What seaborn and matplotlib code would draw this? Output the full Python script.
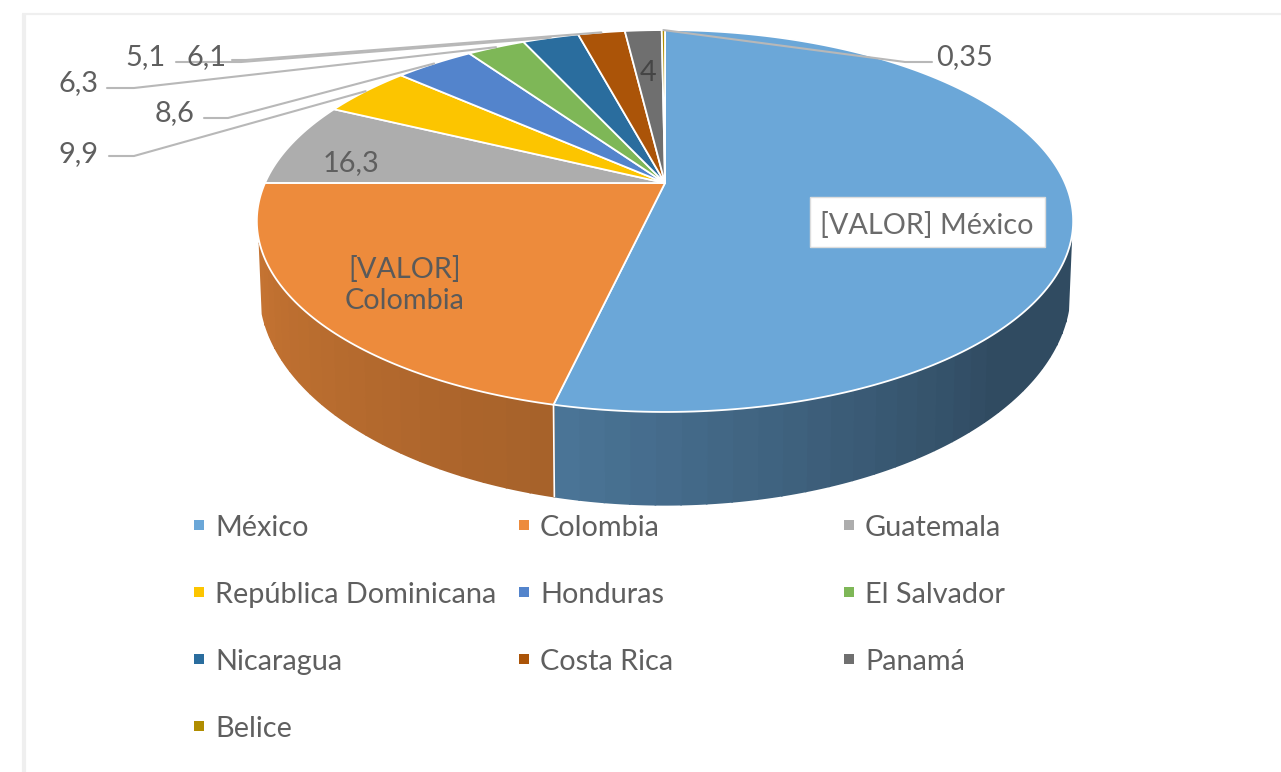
import numpy as np
import matplotlib
matplotlib.use("Agg")
import matplotlib.pyplot as plt
import seaborn as sns

# ---- data ----
countries = ["México", "Colombia", "Guatemala", "República Dominicana", "Honduras",
             "El Salvador", "Nicaragua", "Costa Rica", "Panamá", "Belice"]
values = [121.5, 48.5, 16.3, 9.9, 8.6, 6.3, 6.1, 5.1, 4.0, 0.35]
value_labels = ["[VALOR] México", "[VALOR]\nColombia", "16,3", "9,9", "8,6",
                "6,3", "6,1", "5,1", "4", "0,35"]
hex_colors = ["#6BA7D8", "#ED8B3C", "#ADADAD", "#FCC500", "#5384CC",
              "#7EB757", "#2A6D9E", "#AB5408", "#6F6F6F", "#B08D00"]

# ---- style ----
sns.set_theme(style="white")
plt.rcParams["font.family"] = ["Lato", "DejaVu Sans"]
palette = sns.color_palette(hex_colors)
TEXT = "#5f5f5f"
FS = 20.8

fig = plt.figure(figsize=(12.81, 7.72), dpi=100)
ax = fig.add_axes([0, 0, 1, 1])
ax.set_xlim(0, 1281)
ax.set_ylim(772, 0)
ax.axis("off")

# chart frame
ax.plot([23.5, 23.5], [772, 14], color="#efefef", lw=3, solid_capstyle="butt", zorder=0)
ax.plot([22, 1281], [14, 14], color="#efefef", lw=1.6, solid_capstyle="butt", zorder=0)

# ---- perspective projection of the pie discs ----
K = 0.199
CX = 665


def top_rim(theta, r=1.0):
    u, v = r * np.sin(theta), r * np.cos(theta)
    d = 1 + K * v
    return CX + 400 * u / d, 183 - 183.4 * v / d


def low_rim(theta):
    u, v = np.sin(theta), np.cos(theta)
    d = 1 + K * v
    return CX + 397 * u / d, 247 - 206.5 * v / d


vals = np.asarray(values, dtype=float)
edges = np.concatenate([[0], np.cumsum(vals)]) / vals.sum() * 2 * np.pi
mids = (edges[:-1] + edges[1:]) / 2


def shade(theta_deg):
    return np.interp(theta_deg, [0, 135, 193, 270, 360], [0.45, 0.45, 0.70, 0.87, 0.87])


# side wall, in narrow shaded bands
band = np.deg2rad(3.0)
for i, col in enumerate(palette):
    a, b = edges[i], edges[i + 1]
    n = max(1, int(np.ceil((b - a) / band)))
    steps = np.linspace(a, b, n + 1)
    for t0, t1 in zip(steps[:-1], steps[1:]):
        tm = (t0 + t1) / 2
        if np.cos(tm) > -0.30:
            continue
        s = shade(np.rad2deg(tm))
        c = tuple(np.clip(np.array(col) * s, 0, 1))
        tt = np.linspace(t0, t1, 6)
        xt, yt = top_rim(tt)
        xb, yb = low_rim(tt[::-1])
        ax.fill(np.r_[xt, xb], np.r_[yt, yb], color=c, lw=1.2, zorder=2)

# boundary between the two visible side walls
xa, ya = top_rim(edges[1])
xb, yb = low_rim(edges[1])
ax.plot([xa, xb], [ya, yb], color="white", lw=1.2, zorder=3)

# top surface
for i, col in enumerate(palette):
    tt = np.linspace(edges[i], edges[i + 1], max(4, int((edges[i + 1] - edges[i]) * 60)))
    xs, ys = top_rim(tt)
    ax.fill(np.r_[CX, xs], np.r_[183, ys], facecolor=col, edgecolor="white", lw=1.3,
            joinstyle="round", zorder=4)

# ---- labels inside the pie ----
ax.fill([810, 1045, 1045, 810], [197, 197, 247, 247], facecolor="white", edgecolor="#dddddd", lw=1, zorder=5)
ax.text(927, 226, value_labels[0], color="#6b6b6b", fontsize=FS, ha="center", va="center", zorder=6)
ax.text(405, 285, value_labels[1], color="#5a5a5a", fontsize=FS, ha="center", va="center",
        linespacing=1.22, zorder=6)
ax.text(351, 163, value_labels[2], color=TEXT, fontsize=FS, ha="center", va="center", zorder=6)
ax.text(648, 73, value_labels[8], color="#454545", fontsize=FS, ha="center", va="center", zorder=6)

# ---- labels outside, with leader lines ----
# index, label centre, leader start, leader elbow
outside = [
    (3, (78, 154), (109, 156), (134, 156)),
    (4, (175, 113), (204, 118), (228, 118)),
    (5, (78, 83), (107, 88), (134, 88)),
    (6, (207, 57), (176, 62), (241, 62)),
    (7, (145, 57), (232, 60), (246, 60)),
    (9, (965, 57), (932, 62), (905, 62)),
]
for idx, pos, start, elbow in outside:
    xr, yr = top_rim(mids[idx])
    ax.plot([start[0], elbow[0], xr], [start[1], elbow[1], yr], color="#b8b8b8", lw=1.5, zorder=5)
    ax.text(pos[0], pos[1], value_labels[idx], color=TEXT, fontsize=FS, ha="center", va="center", zorder=6)

# ---- legend ----
col_x = [199, 524, 849]
row_y = [525, 592, 659, 726]
for i, (name, col) in enumerate(zip(countries, palette)):
    r, c = divmod(i, 3)
    ax.scatter(col_x[c], row_y[r], marker="s", s=58, color=col, linewidths=0, zorder=6)
    ax.text(col_x[c] + 16, row_y[r] + 3, name, color=TEXT, fontsize=FS, ha="left", va="center", zorder=6)

fig.savefig("out.png", dpi=100, facecolor="white")
